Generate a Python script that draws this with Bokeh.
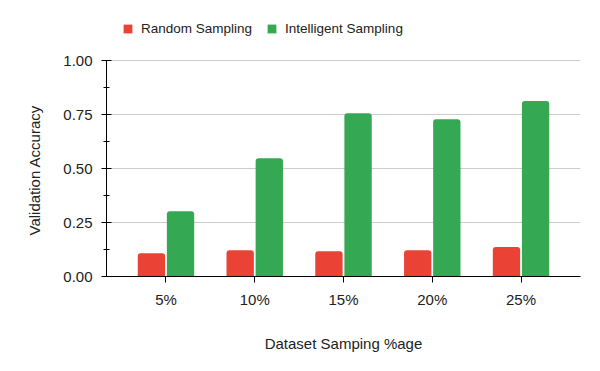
from bokeh.plotting import figure
from bokeh.models import (ColumnDataSource, FactorRange, Range1d, FixedTicker,
                          NumeralTickFormatter, Legend, LegendItem, Title)
from bokeh.transform import dodge
from bokeh.embed import file_html
from bokeh.resources import INLINE

categories = ["5%", "10%", "15%", "20%", "25%"]
random_sampling = [0.108, 0.122, 0.117, 0.122, 0.136]
intelligent_sampling = [0.302, 0.548, 0.756, 0.728, 0.812]
y_ticks = [0.0, 0.25, 0.5, 0.75, 1.0]
y_minor_ticks = [0.125, 0.375, 0.625, 0.875]

RED = "#EA4335"
GREEN = "#34A853"
FONT = "Liberation Sans"
TXT = "#222222"

source = ColumnDataSource(dict(cat=categories, rnd=random_sampling, intl=intelligent_sampling))

# frame spans from y=10 to y=276 px; value 1.0 sits at y=60 px (216 px per unit)
p = figure(width=592, height=363, output_backend="svg", toolbar_location=None,
           x_range=FactorRange(factors=categories, range_padding=0.068),
           y_range=Range1d(0, 266 / 216),
           min_border_left=106, min_border_right=12, min_border_top=10, min_border_bottom=87)
p.outline_line_color = None
p.background_fill_color = "white"

r1 = p.vbar(x=dodge("cat", -0.164, range=p.x_range), top="rnd", width=0.308, source=source,
            fill_color=RED, line_color=None, border_radius=(3, 3, 0, 0))
r2 = p.vbar(x=dodge("cat", 0.164, range=p.x_range), top="intl", width=0.308, source=source,
            fill_color=GREEN, line_color=None, border_radius=(3, 3, 0, 0))

p.xgrid.grid_line_color = None
p.ygrid.grid_line_color = "#cccccc"
p.ygrid.ticker = FixedTicker(ticks=y_ticks)

ya = p.yaxis[0]
ya.bounds = (0, 1)
ya.ticker = FixedTicker(ticks=y_ticks, minor_ticks=y_minor_ticks)
ya.formatter = NumeralTickFormatter(format="0.00")
ya.major_tick_in = 5
ya.major_tick_out = 5
ya.minor_tick_in = 3
ya.minor_tick_out = 3
ya.major_label_standoff = 9

xa = p.xaxis[0]
xa.major_tick_in = 0
xa.major_tick_out = 6
xa.minor_tick_in = 0
xa.minor_tick_out = 0
xa.major_label_standoff = 8
xa.axis_label = "Dataset Samping %age"
xa.axis_label_standoff = 24

for ax in (xa, ya):
    ax.axis_line_color = "black"
    ax.major_tick_line_color = "black"
    ax.minor_tick_line_color = "black"
    ax.major_label_text_font = FONT
    ax.major_label_text_font_size = "15px"
    ax.major_label_text_color = TXT
    ax.axis_label_text_font = FONT
    ax.axis_label_text_font_size = "15px"
    ax.axis_label_text_font_style = "normal"
    ax.axis_label_text_color = TXT

# y-axis title, centred on the visible 0..1 axis rather than on the taller frame
ytitle = Title(text="Validation Accuracy", align="left", offset=41, standoff=35,
               text_font=FONT, text_font_size="15px", text_font_style="normal",
               text_color=TXT)
p.add_layout(ytitle, "left")

legend = Legend(items=[LegendItem(label="Random Sampling", renderers=[r1]),
                       LegendItem(label="Intelligent Sampling", renderers=[r2])],
                orientation="horizontal", location=(16, 240),
                padding=0, margin=0, spacing=14, label_standoff=8,
                glyph_width=11, glyph_height=11, label_height=11,
                border_line_color=None, background_fill_alpha=0,
                label_text_font=FONT, label_text_font_size="13.5px", label_text_color=TXT)
p.add_layout(legend, "center")

open("out.html", "w").write(file_html(p, INLINE))
